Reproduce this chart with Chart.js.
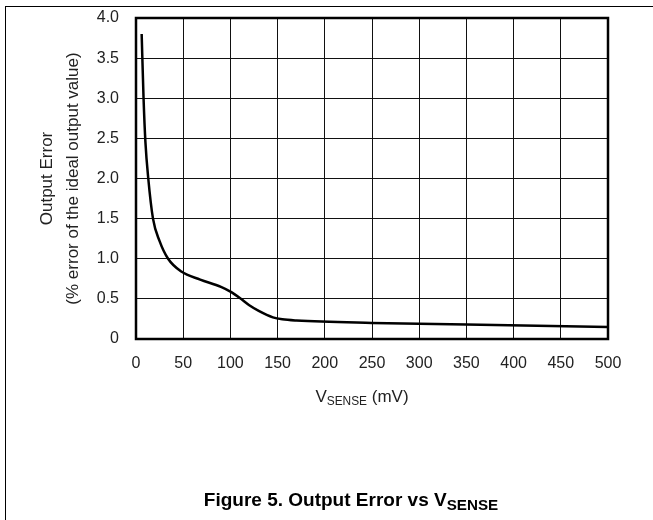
<!DOCTYPE html>
<html lang="en">
<head>
    <meta charset="UTF-8">
    <title>Output Error vs VSENSE</title>
    <script src="https://cdn.jsdelivr.net/npm/chart.js"></script>
    <style>
        body { margin: 0; background: #fff; font-family: "Liberation Sans", Arial, sans-serif; }
        #wrap { position: relative; width: 653px; height: 520px; overflow: hidden; }
        #frame { position: absolute; left: 5px; top: 6px; width: 660px; height: 530px;
                 border-top: 1px solid #000; border-left: 1px solid #000; }
        #myChart { position: absolute; left: 0; top: 0; }
        .xtitle { position: absolute; left: 262px; width: 200px; top: 387px; text-align: center;
                  font-size: 17px; color: #222; }
        .figtitle { position: absolute; left: 100px; width: 502px; top: 489px; text-align: center;
                    font-size: 19px; font-weight: bold; color: #000; }
        sub { font-size: 70%; vertical-align: -0.25em; }
        .figtitle sub { font-size: 80%; }
    </style>
</head>
<body>
<div id="wrap">
    <div id="frame"></div>
    <canvas id="myChart" width="653" height="520"></canvas>
    <div class="xtitle">V<sub>SENSE</sub> (mV)</div>
    <div class="figtitle">Figure 5. Output Error vs V<sub>SENSE</sub></div>
</div>

<script>
    // curve: V_SENSE (mV) vs output error (%)
    var vsense = [6, 8, 10, 13, 18, 25, 34, 48, 68, 90, 100, 110, 120, 130, 145, 155, 170, 250, 350, 500];
    var outErr = [3.80, 3.00, 2.45, 2.00, 1.50, 1.22, 1.00, 0.84, 0.74, 0.65, 0.59, 0.51, 0.42, 0.35, 0.27, 0.245, 0.23, 0.20, 0.18, 0.15];

    var yTickLabels = ['0', '0.5', '1.0', '1.5', '2.0', '2.5', '3.0', '3.5', '4.0'];
    var xTickLabels = ['0', '50', '100', '150', '200', '250', '300', '350', '400', '450', '500'];

    var points = vsense.map(function (v, i) { return { x: v, y: outErr[i] }; });

    // thick box around the plot area
    var frameBox = {
        id: 'frameBox',
        afterDraw: function (chart) {
            var a = chart.chartArea, c = chart.ctx;
            c.save();
            c.strokeStyle = '#000';
            c.lineWidth = 2.5;
            c.strokeRect(a.left, a.top, a.right - a.left, a.bottom - a.top);
            c.restore();
        }
    };

    var tickFont = { family: '"Liberation Sans", Arial, sans-serif', size: 16 };

    var ctx = document.getElementById('myChart').getContext('2d');
    var myChart = new Chart(ctx, {
        type: 'line',
        data: {
            datasets: [{
                data: points,
                borderColor: '#000',
                borderWidth: 2.5,
                pointRadius: 0,
                fill: false,
                cubicInterpolationMode: 'monotone'
            }]
        },
        options: {
            responsive: false,
            animation: false,
            layout: { padding: { left: 0, top: 18, right: 45, bottom: 0 } },
            plugins: { legend: { display: false }, tooltip: { enabled: false } },
            scales: {
                x: {
                    type: 'linear',
                    min: 0, max: 500,
                    afterFit: function (s) { s.height = 181; s.paddingLeft = 0; s.paddingRight = 0; },
                    grid: { color: '#111', lineWidth: 1, drawTicks: false },
                    border: { display: false },
                    ticks: {
                        stepSize: 50,
                        padding: 15,
                        color: '#222',
                        font: tickFont,
                        maxRotation: 0,
                        callback: function (v, i) { return xTickLabels[i]; }
                    }
                },
                y: {
                    min: 0, max: 4,
                    afterFit: function (s) { s.width = 136; s.paddingTop = 0; s.paddingBottom = 0; },
                    grid: { color: '#111', lineWidth: 1, drawTicks: false },
                    border: { display: false },
                    ticks: {
                        stepSize: 0.5,
                        padding: 17,
                        color: '#222',
                        font: tickFont,
                        callback: function (v, i) { return yTickLabels[i]; }
                    },
                    title: {
                        display: true,
                        text: ['Output Error', '(% error of the ideal output value)'],
                        color: '#222',
                        font: { family: '"Liberation Sans", Arial, sans-serif', size: 17, lineHeight: 1.5 },
                        padding: { top: 35, bottom: 0 }
                    }
                }
            }
        },
        plugins: [frameBox]
    });
</script>
</body>
</html>
